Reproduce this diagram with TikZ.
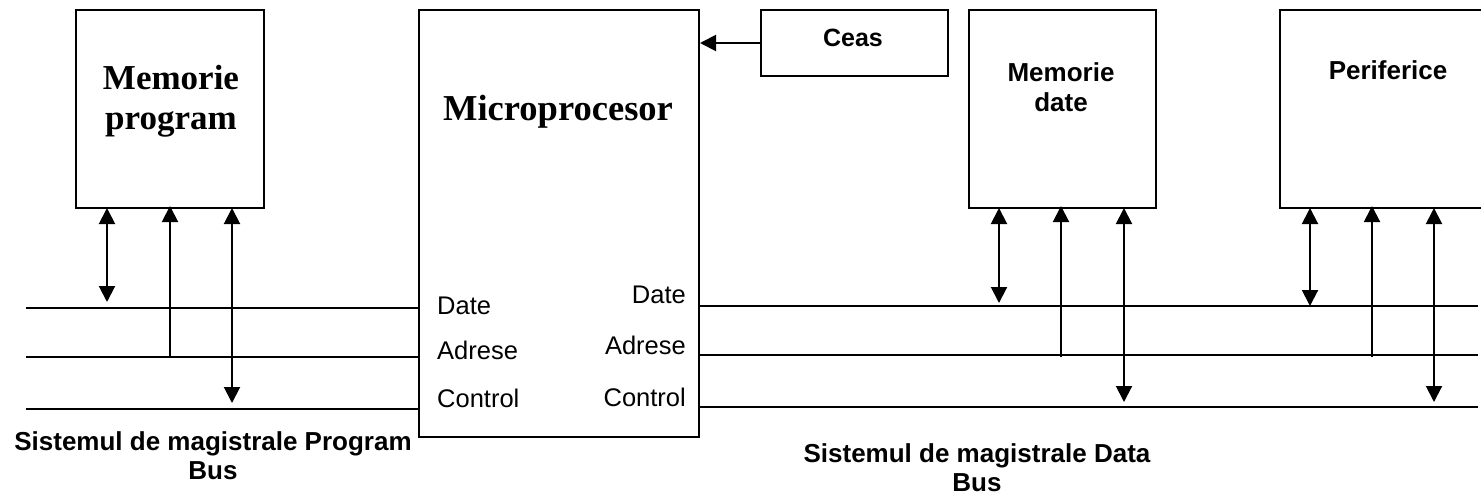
\documentclass[tikz,border=0pt]{standalone}
\usepackage{fontspec}
\setmainfont{Liberation Sans}
\newfontfamily\myserif{Liberation Serif}
\usetikzlibrary{arrows.meta}
\begin{document}
\begin{tikzpicture}[x=1pt,y=-1pt,
  box/.style={draw, line width=2pt, inner sep=0pt, anchor=north west},
  bus/.style={line width=2pt},
  tip/.tip={Triangle[length=16pt,width=16pt]},
  conn/.style={line width=2pt, -tip},
  bidir/.style={line width=2pt, tip-tip},
  sertitle/.style={font=\myserif\bfseries\fontsize{35}{40}\selectfont, inner sep=0pt, anchor=base},
  santitle/.style={font=\bfseries\fontsize{26}{29}\selectfont, inner sep=0pt, anchor=base},
  lblL/.style={font=\fontsize{25.5}{28}\selectfont, inner sep=0pt, anchor=base west},
  lblR/.style={font=\fontsize{25.5}{28}\selectfont, inner sep=0pt, anchor=base east}]
\useasboundingbox (0,0) rectangle (1481,499);
\clip (0,0) rectangle (1481,499);
% boxes
\node[box, minimum width=188pt, minimum height=198pt] (mprog) at (75,9) {};
\node[box, minimum width=280pt, minimum height=427pt] (micro) at (418,9) {};
\node[box, minimum width=187pt, minimum height=66pt] (ceas) at (760,9) {};
\node[box, minimum width=187pt, minimum height=198pt] (mdate) at (968,9) {};
\node[box, minimum width=218pt, minimum height=198pt] (perif) at (1279,9) {};
% box texts
\node[sertitle] (mprogA) at (171,89) {Memorie};
\node[sertitle] (mprogB) at (171,129) {program};
\node[sertitle, font=\myserif\bfseries\fontsize{36.5}{40}\selectfont] (microT) at (558,120) {Microprocesor};
\node[santitle, font=\bfseries\fontsize{25}{28}\selectfont] (ceasT) at (853,46) {Ceas};
\node[santitle] (mdateA) at (1061,81) {Memorie};
\node[santitle] (mdateB) at (1061,111) {date};
\node[santitle] (perifT) at (1388,79) {Periferice};
% microprocessor port labels
\node[lblL] (lDate) at (437,314) {Date};
\node[lblL] (lAdr) at (437,359) {Adrese};
\node[lblL] (lCtl) at (437,407) {Control};
\node[lblR] (rDate) at (686,303) {Date};
\node[lblR] (rAdr) at (686,354) {Adrese};
\node[lblR] (rCtl) at (686,406) {Control};
% captions
\node[santitle] (capL1) at (213,450) {Sistemul de magistrale Program};
\node[santitle] (capL2) at (213,479) {Bus};
\node[santitle] (capR1) at (977,462) {Sistemul de magistrale Data};
\node[santitle] (capR2) at (977,491) {Bus};
% clock
\draw[conn] (ceas.west) -- (ceas.west -| micro.east);
% bus line ends
\coordinate (LD) at (26,308);
\coordinate (LA) at (26,357);
\coordinate (LC) at (26,409);
\coordinate (RD) at (1478,306);
\coordinate (RA) at (1478,355);
\coordinate (RC) at (1478,407);
\draw[bus] (LD) -- (LD -| micro.west);
\draw[bus] (LA) -- (LA -| micro.west);
\draw[bus] (LC) -- (LC -| micro.west);
\draw[bus] (RD -| micro.east) -- (RD);
\draw[bus] (RA -| micro.east) -- (RA);
\draw[bus] (RC -| micro.east) -- (RC);
% program memory connections
\coordinate (p1) at (107,302);
\coordinate (p2) at (170,358);
\coordinate (p3) at (232,403);
\draw[bidir] ([yshift=1pt]p1 |- mprog.south) -- (p1);
\draw[conn] (p2) -- ([yshift=3pt]p2 |- mprog.south);
\draw[bidir] ([yshift=1pt]p3 |- mprog.south) -- (p3);
% data memory connections
\coordinate (d1) at (999,303);
\coordinate (d2) at (1061,357);
\coordinate (d3) at (1124,402);
\draw[bidir] ([yshift=1pt]d1 |- mdate.south) -- (d1);
\draw[conn] (d2) -- ([yshift=3pt]d2 |- mdate.south);
\draw[bidir] ([yshift=1pt]d3 |- mdate.south) -- (d3);
% peripherals connections
\coordinate (e1) at (1310,306);
\coordinate (e2) at (1372,357);
\coordinate (e3) at (1434,402);
\draw[bidir] ([yshift=1pt]e1 |- perif.south) -- (e1);
\draw[conn] (e2) -- ([yshift=3pt]e2 |- perif.south);
\draw[bidir] ([yshift=1pt]e3 |- perif.south) -- (e3);
\end{tikzpicture}
\end{document}
